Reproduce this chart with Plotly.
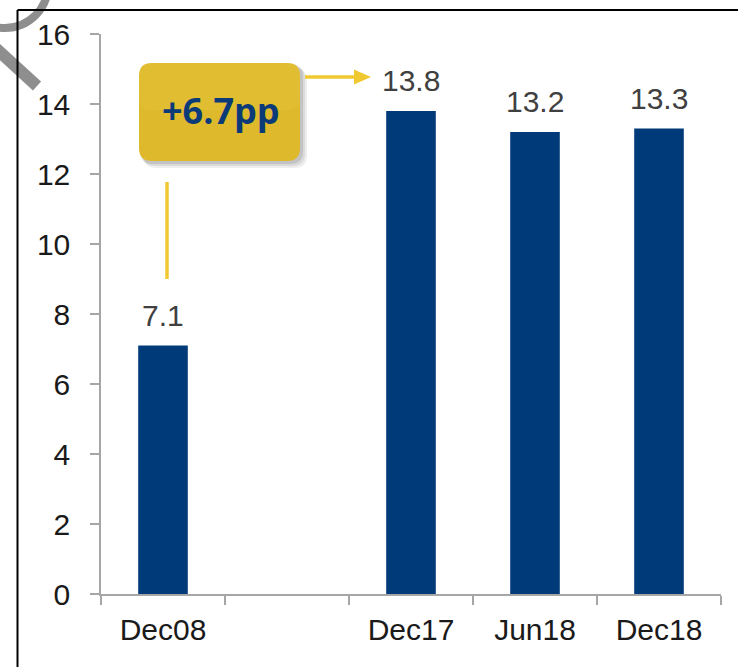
import plotly.graph_objects as go

categories = ["Dec08", " ", "Dec17", "Jun18", "Dec18"]
values = [7.1, None, 13.8, 13.2, 13.3]
value_labels = ["7.1", "", "13.8", "13.2", "13.3"]
y_ticks = [0, 2, 4, 6, 8, 10, 12, 14, 16]
callout_text = "+6.7pp"

W, H = 738, 667
L, R, T, B = 101, 17, 34, 73
PW, PH = W - L - R, H - T - B


def px(x):
    return (x - L) / PW


def py(y):
    return (H - B - y) / PH


BAR = "#003A78"
GOLD = "#F0C832"
BOX = "#DEB92C"
FONT = "Liberation Sans, Arial, sans-serif"

fig = go.Figure()
fig.add_trace(go.Bar(x=categories, y=values, marker=dict(color=BAR, line=dict(width=0)),
                     width=0.4, hoverinfo="skip", showlegend=False))

for c, v, t in zip(categories, values, value_labels):
    if v is None:
        continue
    fig.add_annotation(x=c, y=v, xref="x", yref="y", text=t, showarrow=False,
                       yanchor="bottom", yshift=12,
                       font=dict(family=FONT, size=30, color="#404040"))

shapes = []

# grey watermark fragment (top-left)
cx, cy, r = 5, -15, 43
shapes.append(dict(type="circle", xref="paper", yref="paper",
                   x0=px(cx - r), x1=px(cx + r), y0=py(cy + r), y1=py(cy - r),
                   line=dict(color="#8E8E8E", width=8), layer="above"))
shapes.append(dict(type="line", xref="paper", yref="paper",
                   x0=px(-10), y0=py(43), x1=px(37), y1=py(86),
                   line=dict(color="#8E8E8E", width=12), layer="above"))

# black frame (top and left)
shapes.append(dict(type="line", xref="paper", yref="paper",
                   x0=px(17.5), y0=py(10), x1=px(740), y1=py(10),
                   line=dict(color="#000000", width=2), layer="above"))
shapes.append(dict(type="line", xref="paper", yref="paper",
                   x0=px(17.5), y0=py(10), x1=px(17.5), y1=py(670),
                   line=dict(color="#000000", width=2), layer="above"))


def rounded_rect(x0, y0, x1, y1, rad):
    def P(x, y):
        return f"{px(x):.5f},{py(y):.5f}"
    return (f"M {P(x0 + rad, y0)} L {P(x1 - rad, y0)} "
            f"Q {P(x1, y0)} {P(x1, y0 + rad)} L {P(x1, y1 - rad)} "
            f"Q {P(x1, y1)} {P(x1 - rad, y1)} L {P(x0 + rad, y1)} "
            f"Q {P(x0, y1)} {P(x0, y1 - rad)} L {P(x0, y0 + rad)} "
            f"Q {P(x0, y0)} {P(x0 + rad, y0)} Z")


# shadow layers
for i, op in enumerate([0.07, 0.08, 0.10]):
    off = 7 - 2 * i
    shapes.append(dict(type="path", xref="paper", yref="paper",
                       path=rounded_rect(139 + off - 2, 63 + off - 2, 300 + off, 161 + off, 13),
                       fillcolor=f"rgba(0,0,0,{op})", line=dict(width=0), layer="above"))
shapes.append(dict(type="path", xref="paper", yref="paper",
                   path=rounded_rect(139, 63, 300, 161, 13),
                   fillcolor=BOX, line=dict(width=0), layer="above"))
shapes.append(dict(type="path", xref="paper", yref="paper",
                   path=rounded_rect(139, 63, 300, 110, 13),
                   fillcolor="rgba(255,225,110,0.10)", line=dict(width=0), layer="above"))

# connector lines
shapes.append(dict(type="line", xref="paper", yref="paper",
                   x0=px(167), y0=py(182), x1=px(167), y1=py(279),
                   line=dict(color=GOLD, width=3.5), layer="above"))
shapes.append(dict(type="line", xref="paper", yref="paper",
                   x0=px(305), y0=py(77), x1=px(357), y1=py(77),
                   line=dict(color=GOLD, width=3.5), layer="above"))
shapes.append(dict(type="path", xref="paper", yref="paper",
                   path=f"M {px(354)},{py(69.5)} L {px(371)},{py(77)} L {px(354)},{py(84.5)} Z",
                   fillcolor=GOLD, line=dict(width=0), layer="above"))

fig.add_annotation(xref="paper", yref="paper", x=px(221), y=py(111), text=f"<b>{callout_text}</b>",
                   showarrow=False, xanchor="center", yanchor="middle",
                   font=dict(family="Open Sans, sans-serif", size=36, color="#0B3A78"))

fig.update_layout(
    width=W, height=H,
    margin=dict(l=L, r=R, t=T, b=B, pad=0),
    paper_bgcolor="white", plot_bgcolor="white",
    shapes=shapes,
    bargap=0.6,
    xaxis=dict(type="category", range=[-0.5, 4.5], showgrid=False, showline=True,
               linecolor="#A6A6A6", linewidth=1.5, ticks="outside", tickson="boundaries",
               ticklen=9, tickwidth=1.5, tickcolor="#A6A6A6", ticklabelstandoff=8,
               tickfont=dict(family=FONT, size=30, color="#1A1A1A"), zeroline=False),
    yaxis=dict(range=[0, 16], tickvals=y_ticks, showgrid=False, showline=True,
               linecolor="#A6A6A6", linewidth=1.5, ticks="outside", ticklen=9,
               tickwidth=1.5, tickcolor="#A6A6A6", ticklabelstandoff=14,
               tickfont=dict(family=FONT, size=30, color="#1A1A1A"), zeroline=False),
)

fig.write_html("out.html", config={"displayModeBar": False},
               post_script="document.body.style.margin='0';document.body.style.overflow='hidden';")
